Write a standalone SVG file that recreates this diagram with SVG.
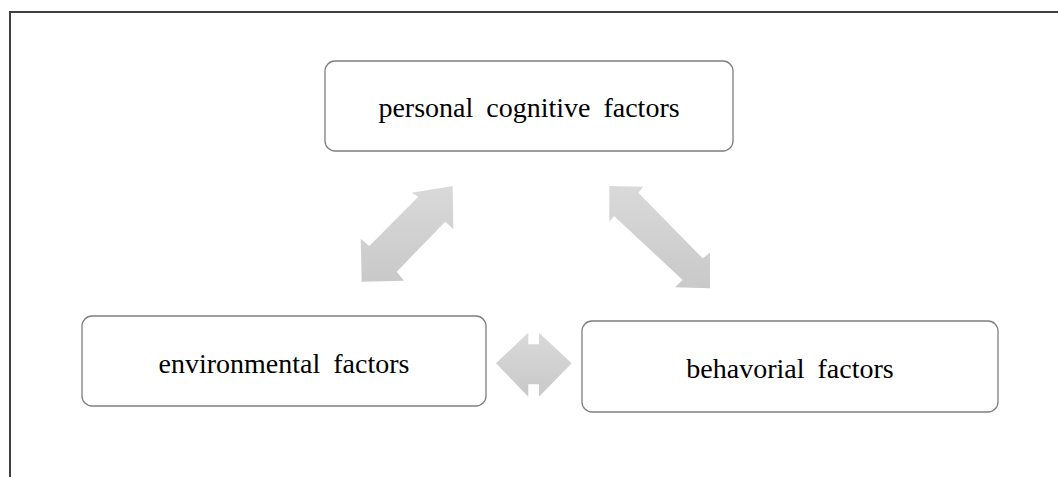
<svg xmlns="http://www.w3.org/2000/svg" width="1058" height="477" viewBox="0 0 1058 477">
<defs>
<linearGradient id="ag" x1="0" y1="0" x2="0" y2="1">
<stop offset="0" stop-color="#d9d9d9"/>
<stop offset="1" stop-color="#c9c9c9"/>
</linearGradient>
<style>
.box{fill:#ffffff;stroke:#7f7f7f;stroke-width:1.3}
.lbl{font-family:"Liberation Serif","Times New Roman",serif;font-size:28px;fill:#000;text-anchor:middle;word-spacing:6px}
.arr{fill:url(#ag);stroke:none}
</style>
</defs>
<rect x="0" y="0" width="1058" height="477" fill="#ffffff"/>
<rect x="10" y="12" width="1100" height="500" fill="none" stroke="#404040" stroke-width="2"/>
<g id="connectors">
<polygon class="arr" points="452.7,186 453.3,229.3 445.3,221.7 396.7,271.7 404,280.7 361.7,281.7 360.7,238.7 369.3,246 418.3,196.7 411.7,192.7"/>
<polygon class="arr" points="609.3,186 643.3,186.7 638.3,192.7 702.7,258.3 710,252.7 710,288.3 675,287.3 682.7,280 614,216 609.3,221.7"/>
<polygon class="arr" points="496,363.3 528.3,332.7 528.3,344.3 539,344.3 539,332.7 571.7,363.3 539,396.7 539,384.3 528.3,384.3 528.3,396.7"/>
</g>
<g id="personal">
<rect class="box" x="325" y="61" width="408" height="90" rx="10"/>
<text class="lbl" x="529" y="117">personal cognitive factors</text>
</g>
<g id="environmental">
<rect class="box" x="82" y="316" width="404" height="90" rx="10"/>
<text class="lbl" x="284" y="373">environmental factors</text>
</g>
<g id="behavioral">
<rect class="box" x="582" y="321" width="416" height="91" rx="10"/>
<text class="lbl" x="790" y="378">behavorial factors</text>
</g>
</svg>
